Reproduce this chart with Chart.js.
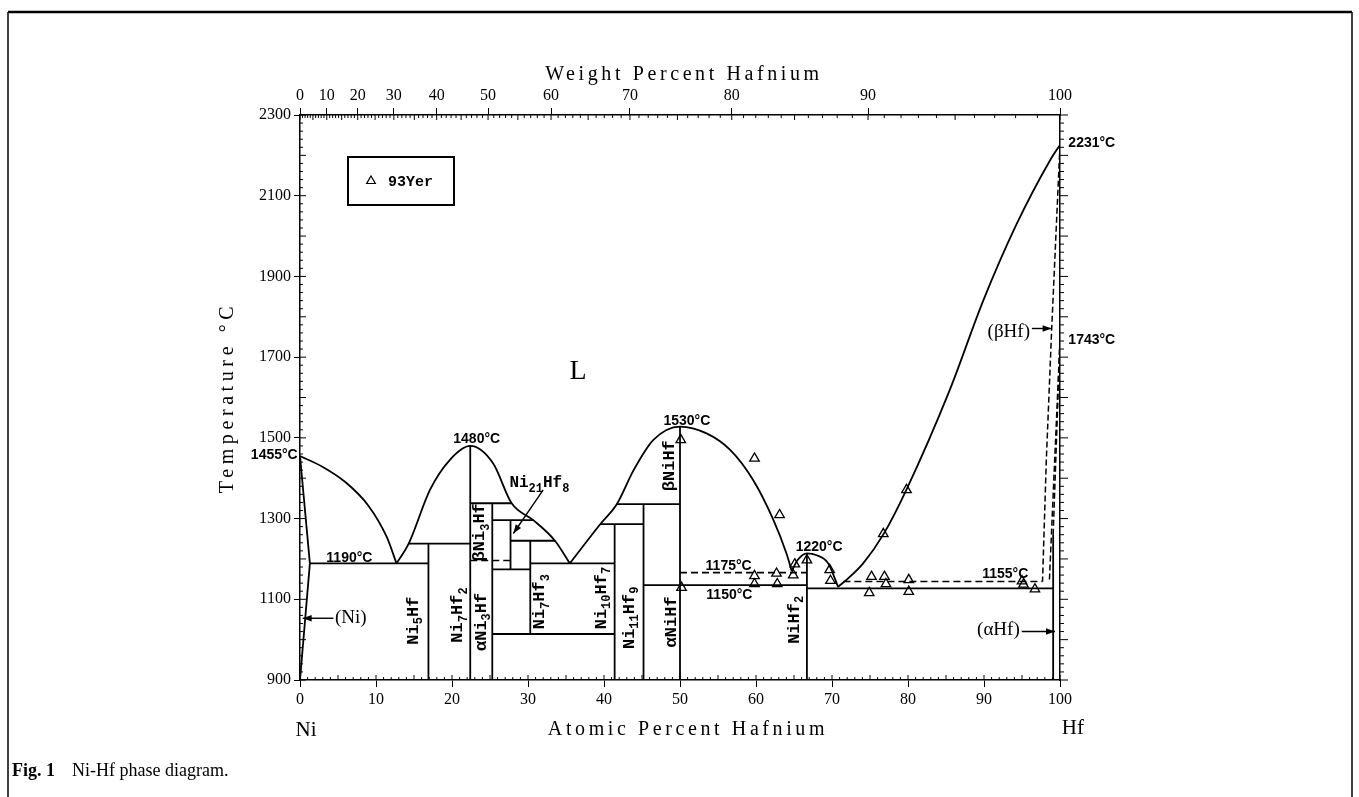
<!DOCTYPE html>
<html>
<head>
<meta charset="utf-8">
<script src="https://cdn.jsdelivr.net/npm/chart.js@4.4.1/dist/chart.umd.min.js"></script>
<style>
  html,body{margin:0;padding:0;background:#fff;}
  canvas{display:block;}
</style>
</head>
<body>
<canvas id="phase" width="1359" height="797"></canvas>
<script>
// tick labels
const atTicks = [0,10,20,30,40,50,60,70,80,90,100];
const wtTicks = [0,10,20,30,40,50,60,70,80,90,100];
const tempTicks = [900,1100,1300,1500,1700,1900,2100,2300];

// liquidus curves, [at.% Hf, °C]
const liqNi     = [[0,1455],[3,1428],[6,1390],[9,1332],[11.4,1255],[12.7,1189]];
const liqNi7Hf2 = [[12.7,1189],[14.3,1238],[17.1,1371],[19.7,1445],[22.4,1480],[25.4,1437],[27.85,1338],[30.7,1296],[33.55,1245],[35.5,1189]];
const liqNiHf   = [[35.5,1189],[39.5,1286],[41.7,1336],[43.9,1420],[46.5,1495],[50,1528],[53.5,1511],[56.6,1470],[59.6,1396],[62.3,1296],[64,1214],[64.7,1170]];
const liqNiHf2  = [[64.7,1170],[65.5,1198],[66.7,1214],[68,1209],[69.5,1189],[70.8,1131]];
const liqHf     = [[70.8,1131],[71.9,1148],[74.1,1189],[76.8,1262],[79.8,1372],[85.5,1619],[89.9,1840],[94.3,2030],[98.7,2188],[100,2226]];

// straight boundaries [x1,T1,x2,T2]
const solidSegs = [
  [0,1455,1.3,1189],[1.3,1189,0,900],
  [1.3,1189,16.9,1189],
  [16.9,900,16.9,1238],[14.3,1238,22.4,1238],
  [22.4,900,22.4,1480],
  [25.3,900,25.3,1338],[22.4,1338,27.85,1338],
  [27.7,1174,27.7,1296],[25.3,1296,30.7,1296],[25.3,1174,30.3,1174],
  [30.3,1014,30.3,1245],[27.7,1245,33.55,1245],[25.3,1014,41.4,1014],
  [30.3,1189,41.4,1189],
  [41.4,900,41.4,1286],[39.5,1286,45.2,1286],
  [45.2,900,45.2,1336],[41.7,1336,50,1336],
  [50,900,50,1528],
  [45.2,1135,66.7,1135],
  [66.7,900,66.7,1214],
  [66.7,1127,99.1,1127],
  [99.1,900,99.1,1260]
];
const dashedSegs = [
  [22.4,1196,27.7,1196],
  [50,1166,66.7,1166],
  [71.5,1144,97.7,1144]
];
const hfSolidus = [[100,2226],[98.9,1767],[98.2,1445],[97.7,1144]];
const hfBeta    = [[100,1743],[99.3,1445],[98.6,1144]];
const hfAlpha   = [[100,1743],[99.1,1260]];

// 93Yer experimental points
const yerX = [50.1,59.8,63.1,50.2,59.8,59.8,62.7,62.8,65.1,64.9,66.7,69.7,69.8,75.2,74.9,76.9,77.1,80.1,80.1,76.75,79.8,95.0,95.2,96.7];
const yerT = [1495,1449,1309,1129,1158,1138,1164,1138,1187,1160,1197,1173,1146,1156,1116,1156,1138,1148,1119,1262,1371,1145,1137,1125];

// annotations
const tempLabels = [
  {t:'1455°C', x:-0.3, y:1457, a:'right'},
  {t:'1190°C', x:6.5, y:1203},
  {t:'1480°C', x:23.25, y:1496},
  {t:'1530°C', x:50.9, y:1542},
  {t:'1175°C', x:56.4, y:1183},
  {t:'1150°C', x:56.5, y:1111},
  {t:'1220°C', x:68.3, y:1230},
  {t:'1155°C', x:92.8, y:1162},
  {t:'2231°C', x:101.1, y:2231, a:'left'},
  {t:'1743°C', x:101.1, y:1742, a:'left'}
];
const phaseLabels = [
  {t:'Ni_5Hf', x:14.9, y:1047},
  {t:'Ni_7Hf_2', x:20.8, y:1061},
  {t:'αNi_3Hf', x:23.9, y:1044},
  {t:'βNi_3Hf', x:23.7, y:1266},
  {t:'Ni_7Hf_3', x:31.6, y:1094},
  {t:'Ni_10Hf_7', x:39.7, y:1103},
  {t:'Ni_11Hf_9', x:43.4, y:1054},
  {t:'αNiHf', x:48.9, y:1044},
  {t:'βNiHf', x:48.7, y:1431},
  {t:'NiHf_2', x:65.1, y:1049}
];
const fieldLabels = [
  {t:'(Ni)', x:4.6, y:1053, a:'left'},
  {t:'(βHf)', x:96.05, y:1763, a:'right'},
  {t:'(αHf)', x:94.7, y:1024, a:'right'}
];
const arrows = [
  [4.4,1053,0.35,1053],
  [96.3,1771,98.9,1771],
  [94.96,1020,99.34,1020],
  [32.0,1371,28.07,1263]
];

const SERIF = '"Liberation Serif", "Times New Roman", serif';
const wtToAt = w => { const a = w/178.49, b = (100-w)/58.69; return 100*a/(a+b); };
const pts = arr => arr.map(([x,y]) => ({x, y}));

function lineSet(points, extra){
  return Object.assign({
    type:'scatter', data: pts(points), showLine:true, fill:false,
    borderColor:'#000', borderWidth:1.8, pointRadius:0, pointHoverRadius:0
  }, extra || {});
}

const datasets = [];
[liqNi, liqNi7Hf2, liqNiHf, liqNiHf2, liqHf].forEach(c => datasets.push(lineSet(c, {cubicInterpolationMode:'monotone'})));
solidSegs.forEach(s => datasets.push(lineSet([[s[0],s[1]],[s[2],s[3]]])));
dashedSegs.forEach(s => datasets.push(lineSet([[s[0],s[1]],[s[2],s[3]]], {borderDash:[7,4], borderWidth:1.6})));
[hfSolidus, hfBeta, hfAlpha].forEach(c => datasets.push(lineSet(c, {borderDash:[6,3], borderWidth:1.5})));
datasets.push({
  type:'scatter', label:'93Yer',
  data: yerX.map((x,i) => ({x, y: yerT[i]})),
  pointStyle:'triangle', pointRadius:5.5, pointBackgroundColor:'rgba(255,255,255,0)',
  pointBorderColor:'#000', pointBorderWidth:1.3
});

// text with numeric subscripts: "Ni_7Hf_2"
function drawRich(ctx, str, x, y, size, family, weight, align){
  const parts = str.split(/_(\d+)/);
  const big = `${weight} ${size}px ${family}`;
  const small = `${weight} ${Math.round(size*0.72)}px ${family}`;
  let w = 0;
  parts.forEach((p,i) => { ctx.font = i%2 ? small : big; w += ctx.measureText(p).width; });
  let cx = align === 'center' ? x - w/2 : align === 'right' ? x - w : x;
  ctx.textAlign = 'left'; ctx.textBaseline = 'middle';
  parts.forEach((p,i) => {
    ctx.font = i%2 ? small : big;
    ctx.fillText(p, cx, y + (i%2 ? size*0.32 : 0));
    cx += ctx.measureText(p).width;
  });
}

function seg(ctx,x1,y1,x2,y2){ ctx.beginPath(); ctx.moveTo(x1,y1); ctx.lineTo(x2,y2); ctx.stroke(); }

const decorPlugin = {
  id:'decor',
  afterDraw(chart){
    const {ctx, chartArea:ca, scales} = chart;
    const xs = scales.x, ys = scales.y;
    const X = v => xs.getPixelForValue(v), Y = v => ys.getPixelForValue(v);
    ctx.save();
    ctx.strokeStyle = '#000'; ctx.fillStyle = '#000'; ctx.lineWidth = 1;

    // minor ticks
    for (let v = 0; v <= 100; v++) { const p = X(v); seg(ctx, p, ca.bottom, p, ca.bottom - (v%5===0 ? 5 : 3)); }
    for (let w = 0; w <= 100; w++) { const p = X(wtToAt(w)); seg(ctx, p, ca.top, p, ca.top + (w%5===0 ? 5 : 3)); }
    for (let t = 900; t <= 2300; t += 20) {
      const p = Y(t);
      seg(ctx, ca.left, p, ca.left + (t%100===0 ? 6 : 3), p);
      seg(ctx, ca.right, p, ca.right + (t%100===0 ? 8 : 4), p);
    }

    // axis titles
    ctx.textAlign = 'center'; ctx.textBaseline = 'middle';
    ctx.font = '20px ' + SERIF;
    const spacing = v => { if ('letterSpacing' in ctx) ctx.letterSpacing = v; };
    spacing('3.6px');
    const midX = (ca.left + ca.right)/2;
    ctx.fillText('Weight Percent Hafnium', midX + 4, ca.top - 40);
    ctx.fillText('Atomic Percent Hafnium', midX + 8, ca.bottom + 50);
    spacing('4.6px');
    ctx.save();
    ctx.translate(ca.left - 72, (ca.top + ca.bottom)/2);
    ctx.rotate(-Math.PI/2);
    ctx.fillText('Temperature °C', 0, 0);
    ctx.restore();
    spacing('0px');
    ctx.font = '21px ' + SERIF;
    ctx.fillText('Ni', X(0.8), ca.bottom + 50);
    ctx.fillText('Hf', X(101.7), ca.bottom + 48);

    // temperature labels
    tempLabels.forEach(l => {
      ctx.font = 'bold 14px "Liberation Sans", Arial, sans-serif';
      ctx.textAlign = l.a || 'center'; ctx.textBaseline = 'middle';
      ctx.fillText(l.t, X(l.x), Y(l.y));
    });

    // phase labels (vertical)
    phaseLabels.forEach(l => {
      ctx.save();
      ctx.translate(X(l.x), Y(l.y));
      ctx.rotate(-Math.PI/2);
      drawRich(ctx, l.t, 0, 0, 17, '"Liberation Mono", monospace', 'bold', 'center');
      ctx.restore();
    });
    drawRich(ctx, 'Ni_21Hf_8', X(31.5), Y(1387), 16, '"Liberation Mono", monospace', 'bold', 'center');

    // field labels
    fieldLabels.forEach(l => {
      ctx.font = '19px ' + SERIF;
      ctx.textAlign = l.a; ctx.textBaseline = 'middle';
      ctx.fillText(l.t, X(l.x), Y(l.y));
    });
    ctx.font = '28px ' + SERIF;
    ctx.textAlign = 'center';
    ctx.fillText('L', X(36.6), Y(1664));

    // arrows
    ctx.lineWidth = 1.4;
    arrows.forEach(a => {
      const x1 = X(a[0]), y1 = Y(a[1]), x2 = X(a[2]), y2 = Y(a[3]);
      seg(ctx, x1, y1, x2, y2);
      const ang = Math.atan2(y2 - y1, x2 - x1), L = 9, W = 3.2;
      ctx.beginPath();
      ctx.moveTo(x2, y2);
      ctx.lineTo(x2 - L*Math.cos(ang) + W*Math.sin(ang), y2 - L*Math.sin(ang) - W*Math.cos(ang));
      ctx.lineTo(x2 - L*Math.cos(ang) - W*Math.sin(ang), y2 - L*Math.sin(ang) + W*Math.cos(ang));
      ctx.closePath(); ctx.fill();
    });

    // legend box
    const lx = ca.left + 48, ly = ca.top + 42;
    ctx.lineWidth = 2;
    ctx.strokeRect(lx, ly, 106, 48);
    ctx.lineWidth = 1.2;
    ctx.fillStyle = '#fff';
    Chart.helpers.drawPoint(ctx, {pointStyle:'triangle', radius:5, borderWidth:1.2}, lx + 23, ly + 24);
    ctx.fillStyle = '#000';
    ctx.font = 'bold 15px "Liberation Mono", monospace';
    ctx.textAlign = 'left'; ctx.textBaseline = 'middle';
    ctx.fillText('93Yer', lx + 40, ly + 25);

    // figure frame and caption
    const W_ = chart.width, H_ = chart.height;
    ctx.lineWidth = 2.5;
    seg(ctx, 8, 12, W_ - 7, 12);
    ctx.lineWidth = 1.5;
    seg(ctx, 8, 12, 8, H_);
    seg(ctx, W_ - 7, 12, W_ - 7, H_);
    ctx.textAlign = 'left'; ctx.textBaseline = 'middle';
    ctx.font = 'bold 18px ' + SERIF;
    ctx.fillText('Fig. 1', 12, 771);
    ctx.font = '18px ' + SERIF;
    ctx.fillText('Ni-Hf phase diagram.', 72, 771);
    ctx.restore();
  }
};

const tickFont = {family:SERIF, size:16};
const axisGrid = {drawOnChartArea:false, drawTicks:true, tickLength:7, color:'#000', lineWidth:1};
const axisBorder = {display:true, color:'#000', width:1.5};

new Chart(document.getElementById('phase'), {
  type:'scatter',
  data:{datasets},
  options:{
    responsive:false, animation:false, devicePixelRatio:1, events:[],
    plugins:{legend:{display:false}, tooltip:{enabled:false}},
    scales:{
      x:{
        type:'linear', position:'bottom', min:0, max:100,
        afterFit: s => { s.height = 117; },
        afterBuildTicks: s => { s.ticks = atTicks.map(v => ({value:v})); },
        ticks:{autoSkip:false, maxRotation:0, color:'#000', font:tickFont, padding:3, callback:(v,i) => String(atTicks[i])},
        grid:axisGrid, border:axisBorder
      },
      x2:{
        type:'linear', position:'top', min:0, max:100,
        afterFit: s => { s.height = 115; },
        afterBuildTicks: s => { s.ticks = wtTicks.map(w => ({value:wtToAt(w)})); },
        ticks:{autoSkip:false, maxRotation:0, color:'#000', font:tickFont, padding:3, callback:(v,i) => String(wtTicks[i])},
        grid:axisGrid, border:axisBorder
      },
      y:{
        type:'linear', position:'left', min:900, max:2300,
        afterFit: s => { s.width = 300; },
        afterBuildTicks: s => { s.ticks = tempTicks.map(v => ({value:v})); },
        ticks:{color:'#000', font:tickFont, padding:3, callback:(v,i) => String(tempTicks[i])},
        grid:Object.assign({}, axisGrid, {tickLength:6}), border:axisBorder
      },
      y2:{
        type:'linear', position:'right', min:900, max:2300,
        afterFit: s => { s.width = 299; },
        ticks:{display:false},
        grid:{drawOnChartArea:false, drawTicks:false}, border:axisBorder
      }
    }
  },
  plugins:[decorPlugin]
});
</script>
</body>
</html>
